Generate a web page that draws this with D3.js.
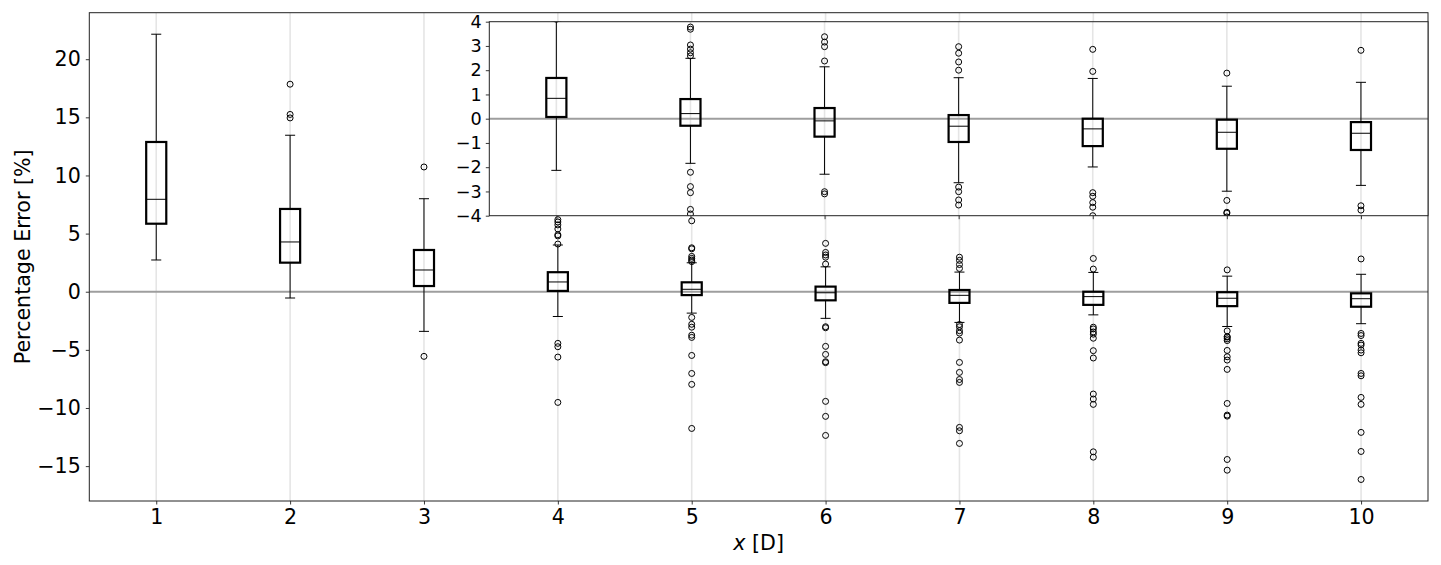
<!DOCTYPE html>
<html><head><meta charset="utf-8">
<script src="https://cdn.jsdelivr.net/npm/d3@7"></script>
<style>
body{margin:0;background:#fff;}
svg{display:block;font-family:"DejaVu Sans",sans-serif;}
</style>
</head><body>
<svg id="chart" width="1441" height="565"></svg>
<script>
const categories = [1,2,3,4,5,6,7,8,9,10];
const whiskerLow  = [2.73, -0.54, -3.41, -2.13, -1.84, -2.29, -2.64, -1.99, -2.99, -2.75];
const q1          = [5.85, 2.50, 0.49, 0.07, -0.29, -0.74, -0.96, -1.13, -1.24, -1.29];
const median      = [7.95, 4.28, 1.87, 0.84, 0.21, -0.09, -0.31, -0.42, -0.56, -0.60];
const q3          = [12.88, 7.12, 3.59, 1.68, 0.81, 0.44, 0.15, 0.00, -0.04, -0.14];
const whiskerHigh = [22.15, 13.46, 8.00, 4.02, 2.49, 2.14, 1.69, 1.66, 1.34, 1.50];
const outliers = [
  [],
  [17.85, 15.25, 14.95],
  [10.73, -5.56],
  [4.1, 4.8, 4.9, 5.4, 5.75, 6.0, 6.2, -4.44, -4.73, -5.62, -9.52],
  [6.1, 3.78, 3.69, 3.04, 2.87, 2.72, 2.59, -2.21, -2.80, -3.05, -3.74, -3.93, -5.48, -7.03, -7.97, -11.76],
  [4.16, 3.38, 3.16, 2.97, 2.38, -3.01, -3.10, -4.70, -5.39, -6.02, -6.10, -9.43, -10.72, -12.36],
  [2.97, 2.70, 2.34, 2.00, -2.82, -3.01, -3.35, -3.56, -4.16, -6.08, -6.94, -7.55, -7.80, -11.67, -11.96, -13.05],
  [2.86, 1.95, -3.05, -3.20, -3.46, -3.65, -4.00, -5.07, -5.70, -8.80, -9.23, -9.69, -13.77, -14.23],
  [1.88, -3.37, -3.86, -3.90, -4.05, -4.20, -5.05, -5.59, -5.88, -6.68, -9.61, -10.61, -10.70, -14.43, -15.35],
  [2.82, -3.59, -3.77, -4.44, -4.59, -5.02, -5.25, -7.03, -7.23, -9.09, -9.69, -12.10, -13.74, -16.15]
];
const mainYTicks = [-15, -10, -5, 0, 5, 10, 15, 20];
const insetYTicks = [-4, -3, -2, -1, 0, 1, 2, 3, 4];
const insetCategories = [4,5,6,7,8,9,10];

const data = categories.map((c,i)=>({c, wl:whiskerLow[i], q1:q1[i], med:median[i], q3:q3[i], wh:whiskerHigh[i], out:outliers[i]}));

const svg = d3.select("#chart");
const fmt = v => (v < 0 ? "\u2212" + Math.abs(v) : String(v));

const M = {l:89.3, r:1428, t:12.7, b:501};
const I = {l:489.3, r:1428, t:21.7, b:215.7};

const x = d3.scaleLinear().domain([0.5, 10.5]).range([M.l, M.r]);
const y = d3.scaleLinear().domain([-18, 24]).range([M.b, M.t]);
const xi = d3.scaleLinear().domain([3.5, 10.5]).range([I.l, I.r]);
const yi = d3.scaleLinear().domain([-4, 4]).range([I.b, I.t]);

const defs = svg.append("defs");
defs.append("clipPath").attr("id","clipMain").append("rect")
  .attr("x",M.l).attr("y",M.t).attr("width",M.r-M.l).attr("height",M.b-M.t);
defs.append("clipPath").attr("id","clipInset").append("rect")
  .attr("x",I.l).attr("y",I.t).attr("width",I.r-I.l).attr("height",I.b-I.t);

function drawPanel(g, xs, ys, cats, rows) {
  g.selectAll(".grid").data(cats).join("line")
    .attr("x1", d=>xs(d)).attr("x2", d=>xs(d))
    .attr("y1", ys.range()[0]).attr("y2", ys.range()[1])
    .attr("stroke","#e5e5e5").attr("stroke-width",1.6);
  g.append("line").attr("x1", xs.range()[0]).attr("x2", xs.range()[1])
    .attr("y1", ys(0)).attr("y2", ys(0))
    .attr("stroke","#9e9e9e").attr("stroke-width",2);
  const hw = 0.075, cw = 0.0375;
  const bx = g.selectAll(".bx").data(rows).join("g");
  bx.append("line").attr("x1",d=>xs(d.c)).attr("x2",d=>xs(d.c))
    .attr("y1",d=>ys(d.q3)).attr("y2",d=>ys(d.wh)).attr("stroke","#000").attr("stroke-width",1);
  bx.append("line").attr("x1",d=>xs(d.c)).attr("x2",d=>xs(d.c))
    .attr("y1",d=>ys(d.q1)).attr("y2",d=>ys(d.wl)).attr("stroke","#000").attr("stroke-width",1);
  bx.append("line").attr("x1",d=>xs(d.c-cw)).attr("x2",d=>xs(d.c+cw))
    .attr("y1",d=>ys(d.wh)).attr("y2",d=>ys(d.wh)).attr("stroke","#000").attr("stroke-width",1);
  bx.append("line").attr("x1",d=>xs(d.c-cw)).attr("x2",d=>xs(d.c+cw))
    .attr("y1",d=>ys(d.wl)).attr("y2",d=>ys(d.wl)).attr("stroke","#000").attr("stroke-width",1);
  bx.append("rect").attr("x",d=>xs(d.c-hw)).attr("width",d=>xs(d.c+hw)-xs(d.c-hw))
    .attr("y",d=>ys(d.q3)).attr("height",d=>ys(d.q1)-ys(d.q3))
    .attr("fill","none").attr("stroke","#000").attr("stroke-width",2.2);
  bx.append("line").attr("x1",d=>xs(d.c-hw)).attr("x2",d=>xs(d.c+hw))
    .attr("y1",d=>ys(d.med)).attr("y2",d=>ys(d.med)).attr("stroke","#000").attr("stroke-width",1);
  bx.each(function(d){
    d3.select(this).selectAll("circle").data(d.out).join("circle")
      .attr("cx", xs(d.c)).attr("cy", v=>ys(v)).attr("r",3)
      .attr("fill","none").attr("stroke","#000").attr("stroke-width",1);
  });
}

const gMain = svg.append("g").attr("clip-path","url(#clipMain)");
drawPanel(gMain, x, y, categories, data);

const axMainX = svg.append("g").attr("transform",`translate(0,${M.b})`)
  .call(d3.axisBottom(x).tickValues(categories).tickSize(3.5).tickPadding(5).tickFormat(d=>d));
const axMainY = svg.append("g").attr("transform",`translate(${M.l},0)`)
  .call(d3.axisLeft(y).tickValues(mainYTicks).tickSize(3.5).tickPadding(5).tickFormat(fmt));
[axMainX, axMainY].forEach(a=>{
  a.select(".domain").remove();
  a.selectAll("text").attr("font-size","20.6px").attr("fill","#000").attr("font-family","DejaVu Sans");
  a.selectAll("line").attr("stroke","#222").attr("stroke-width",0.9);
});
svg.append("rect").attr("x",M.l).attr("y",M.t).attr("width",M.r-M.l).attr("height",M.b-M.t)
  .attr("fill","none").attr("stroke","#222").attr("stroke-width",1);

const xl = svg.append("text").attr("x",(M.l+M.r)/2).attr("y",550).attr("text-anchor","middle")
  .attr("font-size","20.6px").attr("fill","#000");
xl.append("tspan").attr("font-style","italic").text("x");
xl.append("tspan").text(" [D]");
svg.append("text").attr("transform",`translate(30,${(M.t+M.b)/2}) rotate(-90)`)
  .attr("text-anchor","middle").attr("font-size","20.6px").attr("fill","#000")
  .text("Percentage Error [%]");

svg.append("rect").attr("x",I.l).attr("y",I.t).attr("width",I.r-I.l).attr("height",I.b-I.t).attr("fill","#fff");
const gIn = svg.append("g").attr("clip-path","url(#clipInset)");
drawPanel(gIn, xi, yi, insetCategories, data.filter(d=>d.c>=4));

const axInX = svg.append("g").attr("transform",`translate(0,${I.b})`)
  .call(d3.axisBottom(xi).tickValues(insetCategories).tickSize(3.5).tickFormat(""));
const axInY = svg.append("g").attr("transform",`translate(${I.l},0)`)
  .call(d3.axisLeft(yi).tickValues(insetYTicks).tickSize(3.5).tickPadding(4).tickFormat(fmt));
[axInX, axInY].forEach(a=>{
  a.select(".domain").remove();
  a.selectAll("text").attr("font-size","17.6px").attr("fill","#000").attr("font-family","DejaVu Sans");
  a.selectAll("line").attr("stroke","#222").attr("stroke-width",0.9);
});
svg.append("rect").attr("x",I.l).attr("y",I.t).attr("width",I.r-I.l).attr("height",I.b-I.t)
  .attr("fill","none").attr("stroke","#222").attr("stroke-width",1);
</script>
</body></html>
